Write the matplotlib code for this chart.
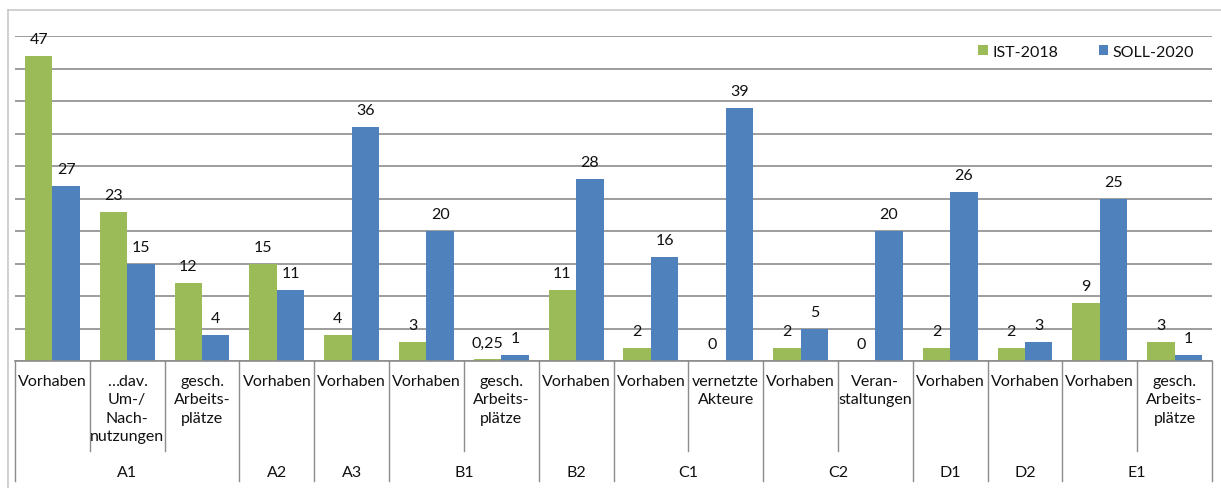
import matplotlib
matplotlib.use("Agg")
import matplotlib.pyplot as plt
from matplotlib.patches import Patch
from matplotlib.lines import Line2D

# ---- data ----
groups = ["A1", "A2", "A3", "B1", "B2", "C1", "C2", "D1", "D2", "E1"]
group_sizes = [3, 1, 1, 2, 1, 2, 2, 1, 1, 2]
sub_labels = ["Vorhaben", "…dav.\nUm-/\nNach-\nnutzungen", "gesch.\nArbeits-\nplätze",
              "Vorhaben", "Vorhaben", "Vorhaben", "gesch.\nArbeits-\nplätze",
              "Vorhaben", "Vorhaben", "vernetzte\nAkteure", "Vorhaben",
              "Veran-\nstaltungen", "Vorhaben", "Vorhaben", "Vorhaben",
              "gesch.\nArbeits-\nplätze"]
ist_2018 = [47, 23, 12, 15, 4, 3, 0.25, 11, 2, 0, 2, 0, 2, 2, 9, 3]
soll_2020 = [27, 15, 4, 11, 36, 20, 1, 28, 16, 39, 5, 20, 26, 3, 25, 1]
series_names = ["IST-2018", "SOLL-2020"]

GREEN = "#9BBB59"
BLUE = "#4F81BD"
GRID = "#8C8C8C"
FONT = "Lato"
TXT = "#111111"

W, H = 1221, 489
fig = plt.figure(figsize=(W / 100, H / 100), dpi=100)
plt.rcParams["font.family"] = [FONT, "DejaVu Sans"]

# axes placement in pixels
left_px, right_px, top_px, base_px = 15, 1212, 37, 362
ax = fig.add_axes([left_px / W, 1 - base_px / H, (right_px - left_px) / W, (base_px - top_px) / H])
ax.set_xlim(-0.5, len(sub_labels) - 0.5)
ax.set_ylim(0, 50)
for s in ax.spines.values():
    s.set_visible(False)
ax.set_xticks([])
ax.set_yticks(range(0, 51, 5))
ax.tick_params(axis="y", length=0, labelleft=False)
ax.yaxis.grid(True, color=GRID, linewidth=1.2)
ax.set_axisbelow(True)

n = len(sub_labels)
x = list(range(n))
bw = 0.367
b1 = ax.bar([i - bw / 2 for i in x], ist_2018, width=bw, color=GREEN, zorder=3)
b2 = ax.bar([i + bw / 2 for i in x], soll_2020, width=bw, color=BLUE, zorder=3)

def fmt(v):
    if float(v).is_integer():
        return str(int(v))
    return str(v).replace(".", ",")

for bars, vals in ((b1, ist_2018), (b2, soll_2020)):
    for rect, v in zip(bars, vals):
        ax.annotate(fmt(v), (rect.get_x() + rect.get_width() / 2, v),
                    xytext=(0, 12), textcoords="offset points",
                    ha="center", va="center", fontsize=11.5, color=TXT,
                    annotation_clip=False)

# category box
ph = base_px - top_px
def yfrac(py):
    return -(py - base_px) / ph

tr = ax.get_xaxis_transform()
sub_bottom = yfrac(452)
grp_bottom = yfrac(482)
ax.plot([-0.5, n - 0.5], [0, 0], transform=tr, color=GRID, lw=1.2, clip_on=False, zorder=4)
bounds = [0]
for g in group_sizes:
    bounds.append(bounds[-1] + g)
for i in range(n + 1):
    xb = i - 0.5
    yb = grp_bottom if i in bounds else sub_bottom
    ax.plot([xb, xb], [0, yb], transform=tr, color=GRID, lw=1.0, clip_on=False)

for i, lab in enumerate(sub_labels):
    ax.text(i, yfrac(375), lab, transform=tr, ha="center", va="top",
            fontsize=11.5, linespacing=1.39, color=TXT)
for gi, g in enumerate(groups):
    cx = (bounds[gi] + bounds[gi + 1] - 1) / 2
    ax.text(cx, yfrac(473), g, transform=tr, ha="center", va="center",
            fontsize=11.5, color=TXT)

# legend
handles = [Patch(facecolor=GREEN, edgecolor="none"), Patch(facecolor=BLUE, edgecolor="none")]
leg = fig.legend(handles, series_names, loc="center left", ncol=2, frameon=False,
                 bbox_to_anchor=(972 / W, 1 - 53 / H), handlelength=0.6, handleheight=0.6,
                 handletextpad=0.3, columnspacing=2.5, fontsize=11.5, borderaxespad=0)
for t in leg.get_texts():
    t.set_color(TXT)

# outer chart border
fig.add_artist(Line2D([8 / W, 8 / W], [0, 1 - 11 / H], transform=fig.transFigure,
                      color="#C8C8C8", lw=1.2))
fig.add_artist(Line2D([8 / W, 1], [1 - 11 / H, 1 - 11 / H], transform=fig.transFigure,
                      color="#C8C8C8", lw=1.2))

fig.savefig("out.png", dpi=100)
